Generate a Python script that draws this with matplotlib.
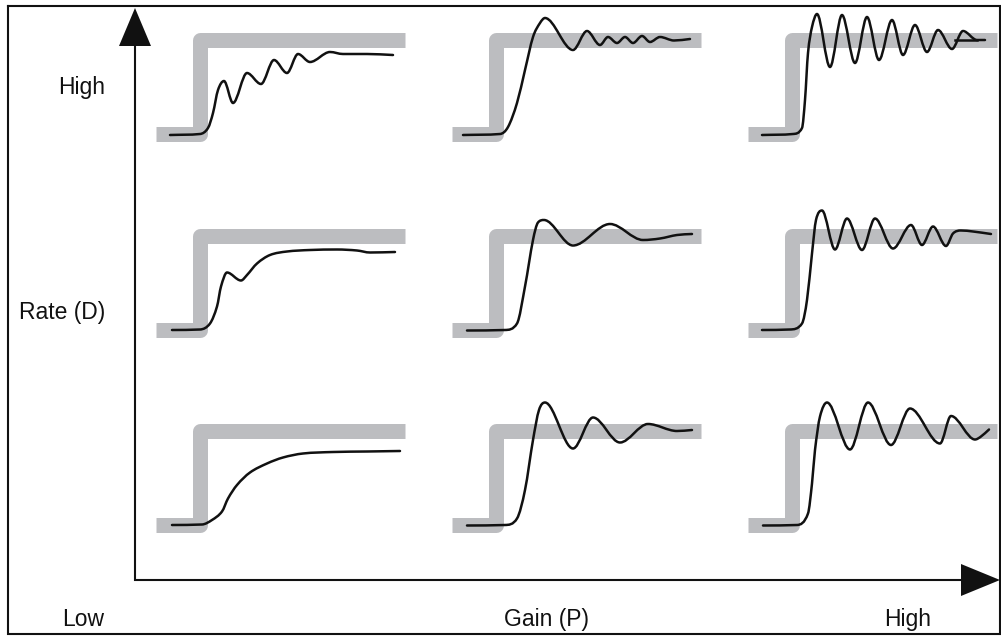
import numpy as np
import matplotlib
matplotlib.use("Agg")
import matplotlib.pyplot as plt
from matplotlib.path import Path
from matplotlib.patches import PathPatch, Polygon

# ---------------- data ----------------
# time axis of each panel (px-like units from left end of the setpoint trace), response (setpoint = 94)
SETPOINT = 94
STEP_TIME = 43.5
PANEL_LEN = 249
step_t = [0, STEP_TIME, STEP_TIME, PANEL_LEN]
step_y = [0, 0, SETPOINT, SETPOINT]

row_labels = ["High", "Rate (D)", ""]
x_labels = ["Low", "Gain (P)", "High"]

# Rate (D) high row
d_high_p_low_t = [14, 44, 52, 57, 62, 68, 77, 91, 105, 118, 131, 142, 154, 174, 187, 211, 237]
d_high_p_low_y = [-1, 0, 6, 21, 44, 53, 31, 61, 50, 74, 61, 80, 72, 82, 80, 80, 79]

d_high_p_mid_t = [11, 48, 56, 65, 73, 81, 88, 93, 121, 135, 148, 156, 165, 173, 181, 190, 198, 208, 222, 238]
d_high_p_mid_y = [-1, 0, 7, 31, 64, 97, 111, 116, 84, 103, 89, 97, 91, 97, 91, 98, 92, 97, 93.5, 95]

d_high_p_high_t = [14, 45, 54, 57, 60, 64, 69, 82, 94, 107, 119, 131, 144, 155, 167, 179, 190, 204, 215, 229, 237]
d_high_p_high_y = [-1, 0, 6, 34, 81, 107, 120, 67, 119, 71, 117, 74, 114, 79, 109, 82, 104, 85, 103, 94, 94]
d_high_p_high_tail_t = [207, 229]
d_high_p_high_tail_y = [94, 94]

# Rate (D) mid row
d_mid_p_low_t = [16, 44, 54, 61, 65, 71, 85, 91, 101, 114, 131, 154, 181, 201, 214, 239]
d_mid_p_low_y = [-0.5, 0, 6, 23, 43, 57, 49, 54.5, 66, 74.5, 78, 79.5, 80, 79, 77, 77.5]

d_mid_p_mid_t = [15, 53, 65, 73, 81, 86, 92, 121, 158, 191, 208, 225, 240]
d_mid_p_mid_y = [-1, -0.5, 6, 43, 89.5, 107, 109.5, 84, 105.5, 89.5, 91, 94.5, 95.5]

d_mid_p_high_t = [14, 42, 54, 59, 64, 68, 74, 87, 99, 114, 127, 145, 163, 174, 185, 198, 205, 213, 225, 243]
d_mid_p_high_y = [-0.5, 0, 6, 29.5, 76, 109.5, 119, 80, 111, 79.5, 111, 81, 104.5, 84.5, 103, 83.5, 96, 99, 98, 95.5]

# Rate (D) low row
d_low_p_low_t = [16, 46, 56, 66, 72, 81, 94, 111, 127, 147, 177, 211, 244]
d_low_p_low_y = [-0.5, 0, 4.5, 13, 26, 39.5, 52, 61, 67, 71, 72.5, 73, 73.5]

d_low_p_mid_t = [15, 53, 65, 73, 81, 87, 93, 121, 141, 168, 196, 225, 240]
d_low_p_mid_y = [-1, -0.5, 6, 34.5, 84.5, 114.5, 122, 76, 107, 82, 100.5, 93.5, 94.5]

d_low_p_high_t = [15, 49, 60, 64, 67, 72, 79, 102, 120, 143, 162, 192, 203, 227, 233, 241]
d_low_p_high_y = [-1, -0.5, 11, 41, 74.5, 108, 122, 75, 122, 79.5, 116, 81, 108.5, 85, 88, 95]

curves = [
    [(d_high_p_low_t, d_high_p_low_y), (d_high_p_mid_t, d_high_p_mid_y), (d_high_p_high_t, d_high_p_high_y)],
    [(d_mid_p_low_t, d_mid_p_low_y), (d_mid_p_mid_t, d_mid_p_mid_y), (d_mid_p_high_t, d_mid_p_high_y)],
    [(d_low_p_low_t, d_low_p_low_y), (d_low_p_mid_t, d_low_p_mid_y), (d_low_p_high_t, d_low_p_high_y)],
]

# ---------------- layout ----------------
W, H = 1001, 637
GRAY = "#bcbdc0"
INK = "#111111"
FONT = "Liberation Sans"
FS = 16.5

panel_x0 = [156, 452, 748]
panel_ylow = [134, 329.5, 524.5]
Y_BELOW, Y_ABOVE = 40, 140


def smooth_path(xs, ys):
    """Hermite spline through the read points, drawn as matplotlib cubic Bezier segments."""
    x = np.asarray(xs, float)
    y = np.asarray(ys, float)
    n = len(x)
    d = np.diff(y) / np.diff(x)
    m = np.zeros(n)
    m[0], m[-1] = d[0], d[-1]
    for i in range(1, n - 1):
        if d[i - 1] * d[i] <= 0:
            m[i] = 0.0
        else:
            s = (y[i + 1] - y[i - 1]) / (x[i + 1] - x[i - 1])
            lim = 3 * min(abs(d[i - 1]), abs(d[i]))
            m[i] = np.sign(s) * min(abs(s), lim)
    verts = [(x[0], y[0])]
    codes = [Path.MOVETO]
    for i in range(n - 1):
        h = (x[i + 1] - x[i]) / 3.0
        verts += [(x[i] + h, y[i] + m[i] * h),
                  (x[i + 1] - h, y[i + 1] - m[i + 1] * h),
                  (x[i + 1], y[i + 1])]
        codes += [Path.CURVE4] * 3
    return Path(verts, codes)


fig = plt.figure(figsize=(W / 100, H / 100), dpi=100)
ax = fig.add_axes([0, 0, 1, 1])
ax.set_xlim(0, W)
ax.set_ylim(H, 0)
ax.set_axis_off()

# frame
ax.plot([8, 1000, 1000, 8, 8], [5.5, 5.5, 634, 634, 5.5], color=INK, lw=1.5,
        solid_joinstyle="miter", clip_on=False)

# axes arrows
ax.plot([135, 135, 962], [46, 580, 580], color=INK, lw=1.5, solid_joinstyle="miter")
ax.add_patch(Polygon([[119, 46], [151, 46], [135, 8]], closed=True, color=INK, lw=0))
ax.add_patch(Polygon([[961, 564], [961, 596], [1000, 580]], closed=True, color=INK, lw=0))

# labels
ax.text(105, 94, row_labels[0], ha="right", va="baseline", fontsize=FS, family=FONT, color=INK)
ax.text(105, 319, row_labels[1], ha="right", va="baseline", fontsize=FS, family=FONT, color=INK)
ax.text(104, 626, x_labels[0], ha="right", va="baseline", fontsize=FS, family=FONT, color=INK)
ax.text(546, 626, x_labels[1], ha="center", va="baseline", fontsize=FS, family=FONT, color=INK)
ax.text(908, 626, x_labels[2], ha="center", va="baseline", fontsize=FS, family=FONT, color=INK)

# panels
for r in range(3):
    for c in range(3):
        x0 = panel_x0[c]
        yl = panel_ylow[r]
        left = x0 / W
        bottom = (H - (yl + Y_BELOW)) / H
        pax = fig.add_axes([left, bottom, PANEL_LEN / W, (Y_BELOW + Y_ABOVE) / H])
        pax.set_xlim(0, PANEL_LEN)
        pax.set_ylim(-Y_BELOW, Y_ABOVE)
        pax.set_axis_off()
        pax.patch.set_visible(False)
        pax.plot(step_t, step_y, color=GRAY, lw=10.8, solid_joinstyle="round",
                 solid_capstyle="butt", clip_on=False, zorder=1)
        t, y = curves[r][c]
        pax.add_patch(PathPatch(smooth_path(t, y), fill=False, edgecolor=INK, lw=1.8,
                                capstyle="round", joinstyle="round", clip_on=False, zorder=2))
        if r == 0 and c == 2:
            pax.plot(d_high_p_high_tail_t, d_high_p_high_tail_y, color=INK, lw=1.8,
                     clip_on=False, zorder=2)

fig.savefig("out.png", dpi=100)
